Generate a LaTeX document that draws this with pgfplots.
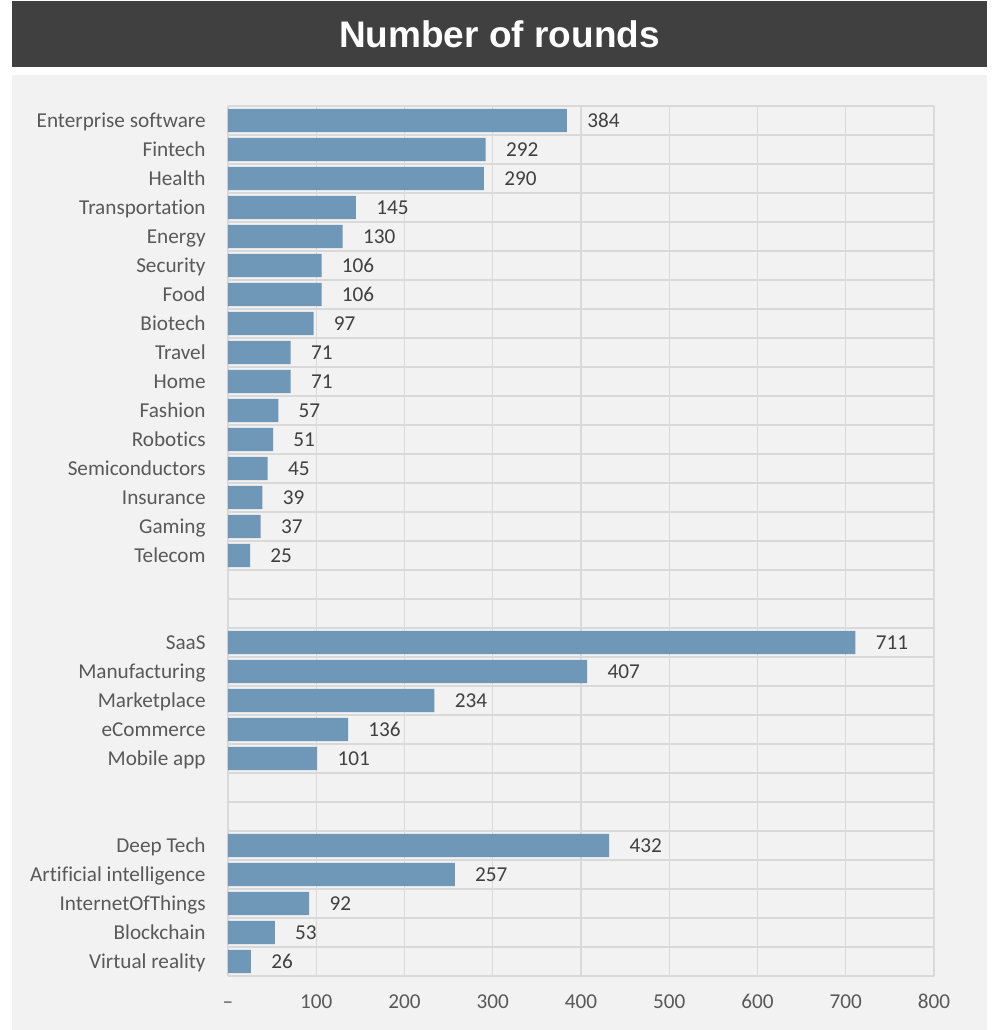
\documentclass[border=0pt]{standalone}
\usepackage{pgfplots}
\usepackage{pgfplotstable}
\pgfplotsset{compat=1.18}
\usepackage{fontspec}
\setmainfont{Carlito}[Ligatures=NoCommon]
\newfontfamily\titlefont{Liberation Sans}
\definecolor{barblue}{HTML}{6F97B7}
\definecolor{titlebg}{HTML}{404040}
\definecolor{panelbg}{HTML}{F2F2F2}
\definecolor{gridgray}{HTML}{D9D9D9}
\definecolor{labgray}{HTML}{595959}
\definecolor{valgray}{HTML}{404040}

\pgfplotstableread{
row val
0 384
1 292
2 290
3 145
4 130
5 106
6 106
7 97
8 71
9 71
10 57
11 51
12 45
13 39
14 37
15 25
18 711
19 407
20 234
21 136
22 101
25 432
26 257
27 92
28 53
29 26
}\datatable

\begin{document}
\begin{tikzpicture}
\path[use as bounding box] (0pt,0pt) rectangle (499.5pt,515pt);
\fill[white] (0pt,0pt) rectangle (499.5pt,515pt);
\fill[titlebg] (6pt,481.5pt) rectangle (493.5pt,514.5pt);
\fill[panelbg] (6pt,0pt) rectangle (493.5pt,477.5pt);
\node[anchor=base, text=white, inner sep=0pt, font=\titlefont\bfseries\fontsize{18.5}{22}\selectfont] at (249.75pt,491.25pt) {Number of rounds};
\begin{axis}[
  at={(114pt,27pt)}, anchor=south west,
  width=353pt, height=435pt, scale only axis,
  xmin=0, xmax=800, ymin=-0.5, ymax=29.5,
  y dir=reverse,
  xbar, bar width=0.8,
  /pgf/number format/assume math mode=true,
  axis line style={draw=none},
  major tick length=0pt, minor tick length=0pt,
  tick style={draw=none},
  xtick={0,100,...,800},
  xticklabels={–,100,200,300,400,500,600,700,800},
  xticklabel style={anchor=base, inner sep=0pt, yshift=-16.25pt, text=labgray, font=\fontsize{10.6}{12}\selectfont},
  ytick={0,1,2,3,4,5,6,7,8,9,10,11,12,13,14,15,18,19,20,21,22,25,26,27,28,29},
  yticklabels={Enterprise software,Fintech,Health,Transportation,Energy,Security,Food,Biotech,Travel,Home,Fashion,Robotics,Semiconductors,Insurance,Gaming,Telecom,SaaS,Manufacturing,Marketplace,eCommerce,Mobile app,Deep Tech,Artificial intelligence,InternetOfThings,Blockchain,Virtual reality},
  yticklabel style={anchor=base east, inner sep=0pt, xshift=-11pt, yshift=-3.4pt, text=labgray, font=\fontsize{10.6}{12}\selectfont},
  minor ytick={-0.5,0.5,...,29.5},
  xmajorgrids, yminorgrids, ymajorgrids=false,
  major grid style={draw=gridgray, line width=0.7pt},
  minor grid style={draw=gridgray, line width=0.7pt},
  nodes near coords,
  nodes near coords style={anchor=base west, inner sep=0pt, xshift=10pt, yshift=-3.4pt, text=valgray, font=\fontsize{10.6}{12}\selectfont},
]
\addplot[fill=barblue, draw=none] table[x=val, y=row] {\datatable};
\end{axis}
\end{tikzpicture}
\end{document}
